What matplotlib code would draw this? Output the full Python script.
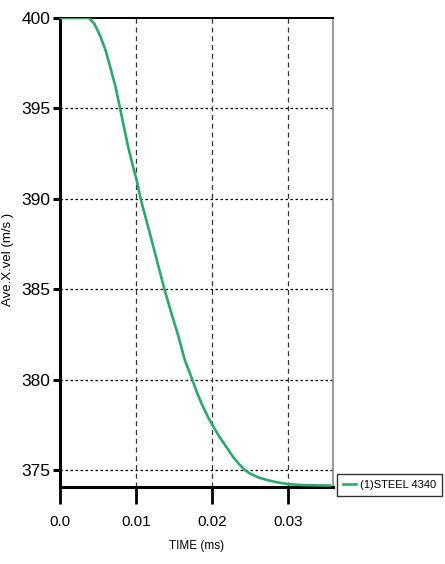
import matplotlib
matplotlib.use("Agg")
import matplotlib.pyplot as plt
from matplotlib.ticker import FixedLocator, FixedFormatter

plt.rcParams['font.family'] = ['Liberation Sans', 'DejaVu Sans']

# average x-velocity of the projectile vs time
time_ms = [0.0, 0.0038, 0.0045, 0.0053, 0.0060, 0.0066, 0.0073, 0.0079, 0.0085,
           0.0090, 0.0096, 0.0101, 0.0106, 0.0113, 0.0120, 0.0128, 0.01373,
           0.0147, 0.01557, 0.0164, 0.0174, 0.0180, 0.0187, 0.0195, 0.0203,
           0.0211, 0.0220, 0.0228, 0.0236, 0.0243, 0.0250, 0.0260, 0.0272,
           0.0285, 0.0300, 0.0316, 0.0335, 0.0355]
ave_x_vel = [400.0, 400.0, 399.7, 399.0, 398.2, 397.3, 396.2, 395.0, 393.8,
             392.8, 391.8, 391.0, 390.0, 388.9, 387.8, 386.5, 385.0,
             383.6, 382.4, 381.1, 380.0, 379.3, 378.6, 377.9, 377.3,
             376.75, 376.2, 375.7, 375.3, 375.0, 374.8, 374.6, 374.45,
             374.32, 374.22, 374.17, 374.15, 374.14]
series_name = "(1)STEEL 4340"

xticks = [0.0, 0.01, 0.02, 0.03]
xtick_labels = ["0.0", "0.01", "0.02", "0.03"]
yticks = [375, 380, 385, 390, 395, 400]

fig = plt.figure(figsize=(4.45, 5.64), dpi=100)
ax = fig.add_axes([60/445, 1 - 487/564, 273/445, 469/564])

ax.plot(time_ms, ave_x_vel, color="#2ca86a", lw=1.9, label=series_name, zorder=3)

ax.set_xlim(0.0, 0.0359)
ax.set_ylim(374.06, 400)

ax.xaxis.set_major_locator(FixedLocator(xticks))
ax.xaxis.set_major_formatter(FixedFormatter(xtick_labels))
ax.yaxis.set_major_locator(FixedLocator(yticks))

# dotted grid
for yv in yticks[:-1]:
    ax.axhline(yv, color="black", lw=0.9, ls=(0, (2, 2)), zorder=1)
for xv in xticks[1:]:
    ax.axvline(xv, color="#333333", lw=0.9, ls=(0, (4, 3)), zorder=1)

for s in ["left", "bottom"]:
    ax.spines[s].set_linewidth(2.2)
    ax.spines[s].set_color("black")
ax.spines["top"].set_linewidth(1.4)
ax.spines["right"].set_linewidth(1.2)
ax.spines["right"].set_color("#888888")

ax.tick_params(axis="y", direction="out", length=5, width=2.2, pad=2,
               labelsize=12.5, colors="black")
ax.tick_params(axis="x", direction="out", length=12, width=2, pad=8,
               labelsize=11, colors="black")

ax.set_ylabel("Ave.X.vel (m/s )", fontsize=9.5)
ax.yaxis.set_label_coords(-46/273, 0.5 - 7/469)
ax.set_xlabel("TIME (ms)", fontsize=8.5, labelpad=8)

leg = ax.legend(loc="upper left", bbox_to_anchor=(337/445, 1 - 474/564),
                bbox_transform=fig.transFigure, borderaxespad=0,
                fancybox=False, frameon=True, fontsize=8.0,
                handlelength=1.2, handletextpad=0.3, borderpad=0.55)
leg.get_frame().set_edgecolor("black")
leg.get_frame().set_linewidth(1.0)

fig.savefig("out.png", dpi=100)
